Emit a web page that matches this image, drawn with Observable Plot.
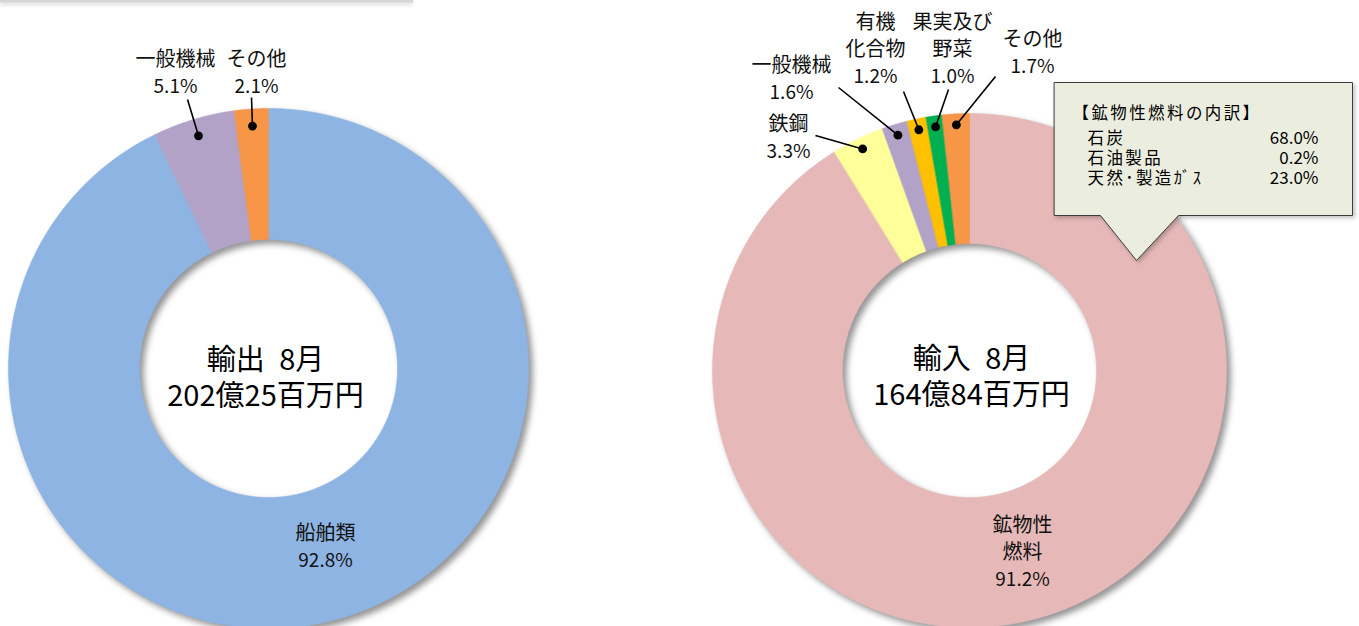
<!DOCTYPE html>
<html><head><meta charset="utf-8">
<script src="https://cdn.jsdelivr.net/npm/d3@7"></script>
<script src="https://cdn.jsdelivr.net/npm/@observablehq/plot@0.6"></script>
<style>
html,body{margin:0;padding:0;background:#fff;}
svg{display:block}
</style></head><body><div id="chart"></div>
<script>
// ---------- data ----------
const exportCategories = ["船舶類", "一般機械", "その他"];
const exportValues = [92.8, 5.1, 2.1];
const importCategories = ["鉱物性燃料", "鉄鋼", "一般機械", "有機化合物", "果実及び野菜", "その他"];
const importValues = [91.2, 3.3, 1.6, 1.2, 1.0, 1.7];
const fuelCategories = ["石炭", "石油製品", "天然･製造ｶﾞｽ"];
const fuelValues = [68.0, 0.2, 23.0];
const centerTitles = ["輸出 8月", "輸入 8月"];
const centerAmounts = ["202億25百万円", "164億84百万円"];
const calloutTitle = "【鉱物性燃料の内訳】";

// ---------- styles ----------
const exportColors = ["#8EB4E3", "#B3A2C7", "#F79646"];
const importColors = ["#E6B9B8", "#FFFF99", "#B3A2C7", "#FFC000", "#00B050", "#F79646"];

// ---------- layout ----------
const W = 1359, H = 626;
const donuts = [
  {cx: 268, cy: 368, R: 260, r: 129, dotR: 243},
  {cx: 969, cy: 370, R: 257, r: 127, dotR: 246}
];
const exportLabelLines = [["船舶類"], ["一般機械"], ["その他"]];
const importLabelLines = [["鉱物性", "燃料"], ["鉄鋼"], ["一般機械"], ["有機", "化合物"], ["果実及び", "野菜"], ["その他"]];
const exportLabelPos = [[325, 533], [175, 59], [256, 59]];
const importLabelPos = [[1022, 525], [788, 124], [791, 65], [875, 22], [952, 22], [1032, 39]];
const exportLeaderStart = [null, [187, 99], [251, 97]];
const importLeaderStart = [null, [815, 135], [838, 87], [903, 91], [948, 89], [995, 76]];
const labelStep = 27;
const centerTextPos = [[265, 376], [971, 375]];
const calloutBox = {x0: 1054, y0: 82, x1: 1352, y1: 215, p0: 1100, p1: 1178, tipX: 1136, tipY: 260};
const calloutTitlePos = [1072, 113];
const calloutNameX = 1087, calloutValueX = 1318, calloutRowY = [138, 158, 178];

const pct = v => d3.format(".1f")(v) + "%";

// ---------- geometry from data ----------
function ringRows(values, cats, colors, d, key) {
  const arcs = d3.pie().sort(null).value(v => v)(values);
  const rows = [];
  arcs.forEach((a, i) => {
    const n = Math.max(4, Math.ceil((a.endAngle - a.startAngle) / (Math.PI / 720)));
    const id = key + i;
    for (let k = 0; k <= n; k++) {
      const t = a.startAngle + (a.endAngle - a.startAngle) * k / n;
      rows.push({id, cat: cats[i], fill: colors[i], x: d.cx + d.R * Math.sin(t), y: d.cy - d.R * Math.cos(t)});
    }
    for (let k = n; k >= 0; k--) {
      const t = a.startAngle + (a.endAngle - a.startAngle) * k / n;
      rows.push({id, cat: cats[i], fill: colors[i], x: d.cx + d.r * Math.sin(t), y: d.cy - d.r * Math.cos(t)});
    }
  });
  return {rows, arcs};
}

const ex = ringRows(exportValues, exportCategories, exportColors, donuts[0], "e");
const im = ringRows(importValues, importCategories, importColors, donuts[1], "i");
const sliceRows = ex.rows.concat(im.rows);

// labels
const nameRows = [], pctRows = [], leaders = [], dots = [];
function addLabels(arcs, values, lines, pos, starts, d) {
  arcs.forEach((a, i) => {
    const [x, y0] = pos[i];
    lines[i].forEach((t, j) => nameRows.push({x, y: y0 + j * labelStep, t}));
    pctRows.push({x, y: y0 + lines[i].length * labelStep, t: pct(values[i])});
    if (starts[i]) {
      const m = (a.startAngle + a.endAngle) / 2;
      const dx = d.cx + d.dotR * Math.sin(m), dy = d.cy - d.dotR * Math.cos(m);
      leaders.push({x1: starts[i][0], y1: starts[i][1], x2: dx, y2: dy});
      dots.push({x: dx, y: dy});
    }
  });
}
addLabels(ex.arcs, exportValues, exportLabelLines, exportLabelPos, exportLeaderStart, donuts[0]);
addLabels(im.arcs, importValues, importLabelLines, importLabelPos, importLeaderStart, donuts[1]);

const centerRows = centerTitles.map((t, i) => ({
  x: centerTextPos[i][0], y: centerTextPos[i][1],
  t: t.replace(" ", "\u2002") + "\n" + centerAmounts[i]
}));

const b = calloutBox;
const calloutPoly = [
  [b.x0, b.y0], [b.x1, b.y0], [b.x1, b.y1], [b.p1, b.y1], [b.tipX, b.tipY], [b.p0, b.y1], [b.x0, b.y1]
].map(([x, y]) => ({x, y}));
const fuelRows = fuelCategories.map((c, i) => ({name: c, v: pct(fuelValues[i]), y: calloutRowY[i]}));

const font = "'Noto Sans CJK JP', 'Noto Sans', sans-serif";

const plot = Plot.plot({
  width: W, height: H, margin: 0,
  x: {domain: [0, W], range: [0, W], axis: null},
  y: {domain: [0, H], range: [0, H], axis: null},
  color: {type: "identity"},
  style: {fontFamily: font, background: "#fff", overflow: "visible", color: "#000"},
  marks: [
    Plot.ruleY([0.5], {x1: 0, x2: 413, stroke: "#d6d6d6", strokeWidth: 3, imageFilter: "drop-shadow(0px 2px 2px rgba(0,0,0,0.18))"}),
    Plot.line(sliceRows, {x: "x", y: "y", z: "id", fill: "fill", stroke: "fill", strokeWidth: 0.6, curve: "linear-closed",
      imageFilter: "drop-shadow(4px 4px 3px rgba(0,0,0,0.42))"}),
    Plot.line(calloutPoly, {x: "x", y: "y", curve: "linear-closed", fill: "#EBEEDF", stroke: "#3c3c3c", strokeWidth: 1,
      imageFilter: "drop-shadow(2px 2px 2px rgba(0,0,0,0.25))"}),
    Plot.link(leaders, {x1: "x1", y1: "y1", x2: "x2", y2: "y2", stroke: "#000", strokeWidth: 1.6}),
    Plot.dot(dots, {x: "x", y: "y", r: 4.4, fill: "#000"}),
    Plot.text(nameRows, {x: "x", y: "y", text: "t", fontSize: 20, fill: "#111"}),
    Plot.text(pctRows, {x: "x", y: "y", text: "t", fontSize: 19, fill: "#111"}),
    Plot.text(centerRows, {x: "x", y: "y", text: "t", fontSize: 29, lineHeight: 1.22, fill: "#000"}),
    Plot.text([calloutTitle], {x: calloutTitlePos[0], y: calloutTitlePos[1], text: d => d, fontSize: 16.5, textAnchor: "start", fill: "#000"}),
    Plot.text(fuelRows, {x: calloutNameX, y: "y", text: "name", fontSize: 16.5, textAnchor: "start", fill: "#000"}),
    Plot.text(fuelRows, {x: calloutValueX, y: "y", text: "v", fontSize: 17, textAnchor: "end", fill: "#000"})
  ]
});
// widen the CJK text inside the callout box to match the original's wide glyphs
const cjkCallout = new Set([calloutTitle, ...fuelCategories]);
plot.querySelectorAll("text").forEach(t => {
  if (cjkCallout.has(t.textContent)) t.style.letterSpacing = "2.4px";
});
document.getElementById("chart").appendChild(plot);
</script>
</body></html>
